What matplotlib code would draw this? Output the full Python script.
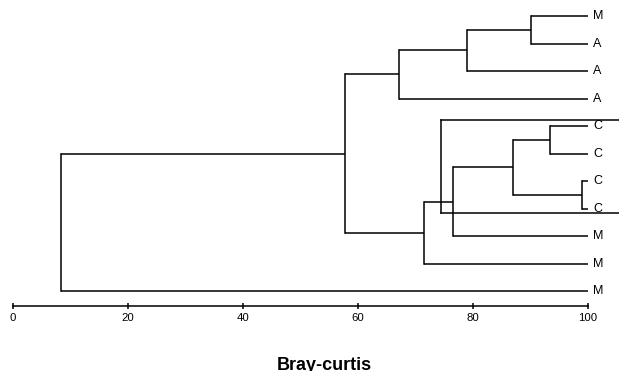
import numpy as np
import matplotlib
matplotlib.use('Agg')
from matplotlib import pyplot as plt

plt.rcParams['font.family'] = ['Liberation Sans', 'DejaVu Sans']

# 叶子标签（从上到下）
leaf_labels = ['M', 'A', 'A', 'A', 'C', 'C', 'C', 'C', 'M', 'M', 'M']

# 聚类合并：左子节点, 右子节点, Bray-curtis 相似度
merge_left = [0, 11, 12, 4, 6, 14, 16, 17, 13, 19]
merge_right = [1, 2, 3, 5, 7, 15, 8, 9, 18, 10]
merge_height = [90.0, 79.0, 67.1, 93.4, 99.0, 87.0, 76.5, 71.5, 57.7, 8.3]

# 图中多出来的一个框线（原图里就有）
extra_x = 74.4
extra_y = [3.78, 7.16]
extra_right = 106.0

x_ticks = [0, 20, 40, 60, 80, 100]

fig = plt.figure(figsize=(6.19, 3.71), dpi=100)
W, H = 619.0, 371.0
px_left, px_right = 13.0, 588.0
unit = 100.0 / (px_right - px_left)

ax = fig.add_axes([0, 0, 1, 1])
ax.set_xlim(-px_left * unit, 100 + (W - px_right) * unit)
ax.set_ylim((H - 16) / 27.5, -16 / 27.5)
ax.axis('off')

n = len(leaf_labels)
node_y = {i: float(i) for i in range(n)}
node_h = {i: 100.0 for i in range(n)}
lw = 1.1
for k, (a, b, h) in enumerate(zip(merge_left, merge_right, merge_height)):
    nid = n + k
    ya, yb = node_y[a], node_y[b]
    ax.plot([node_h[a], h], [ya, ya], color='black', lw=lw, solid_capstyle='butt')
    ax.plot([node_h[b], h], [yb, yb], color='black', lw=lw, solid_capstyle='butt')
    ax.plot([h, h], [ya, yb], color='black', lw=lw, solid_capstyle='projecting')
    node_y[nid] = (ya + yb) / 2
    node_h[nid] = h

# 多出来的框线
ax.plot([extra_x, extra_x], extra_y, color='black', lw=lw)
for y in extra_y:
    ax.plot([extra_x, extra_right], [y, y], color='black', lw=lw)

for i, lab in enumerate(leaf_labels):
    ax.text(100.9, i, lab, fontsize=9, va='center', ha='left')

# 坐标轴
axis_y = 305.7
ax2 = fig.add_axes([px_left / W, (H - axis_y) / H, (px_right - px_left) / W, 0.001])
ax2.set_xlim(0, 100)
for s in ['top', 'left', 'right']:
    ax2.spines[s].set_visible(False)
ax2.spines['bottom'].set_linewidth(1.1)
ax2.set_yticks([])
ax2.set_xticks(x_ticks)
ax2.set_xticklabels([str(t) for t in x_ticks], fontsize=8.2)
ax2.tick_params(axis='x', direction='inout', length=5, width=1.1, pad=3)
ax2.patch.set_visible(False)

fig.text(324 / W, 1 - 369.5 / H, 'Bray-curtis', fontsize=13, fontweight='bold',
         ha='center', va='baseline')

fig.savefig('out.png', dpi=100)
